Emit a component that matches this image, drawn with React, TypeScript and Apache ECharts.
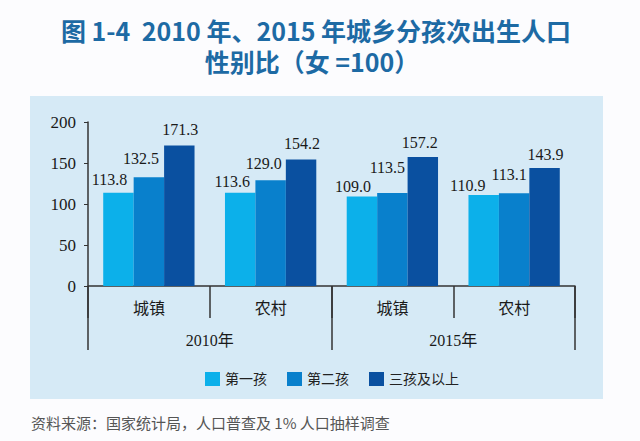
import React, { useEffect, useRef } from "react";
import * as echarts from "echarts";

const categories = ["城镇", "农村", "城镇", "农村"];
const years = ["2010年", "2015年"];
const seriesNames = ["第一孩", "第二孩", "三孩及以上"];
const firstChild = [113.8, 113.6, 109.0, 110.9];
const secondChild = [132.5, 129.0, 113.5, 113.1];
const thirdPlus = [171.3, 154.2, 157.2, 143.9];
const yTicks = [0, 50, 100, 150, 200];

// label nudges (style only)
const labelDx = [
  [-9, -8, -9, -16],
  [-8, -7, -5, -5],
  [1, 1, -3, 1],
];
const labelDy = [
  [-2, 0, 1, 1],
  [-8, -6, -14, -8],
  [-5, -5, -4, -3],
];
const colors = ["#0cb0ea", "#0980cc", "#0a50a0"];

const serif = "'Liberation Serif', 'Noto Sans CJK SC', serif";
const sans = "'Noto Sans CJK SC', sans-serif";

export default function App() {
  const ref = useRef<HTMLDivElement>(null);
  useEffect(() => {
    if (!ref.current) return;
    const chart = echarts.init(ref.current, null, { renderer: "svg" });
    const values = [firstChild, secondChild, thirdPlus];
    const series = values.map((arr, si) => ({
      name: seriesNames[si],
      type: "bar",
      xAxisIndex: 0,
      yAxisIndex: 0,
      barGap: "0%",
      barCategoryGap: "25%",
      itemStyle: { color: colors[si] },
      label: {
        show: true,
        position: "top",
        distance: 3,
        fontFamily: serif,
        fontSize: 16,
        color: "#1a1a1a",
        formatter: (p: any) => Number(p.value).toFixed(1),
      },
      data: arr.map((v, i) => ({
        value: v,
        label: { offset: [labelDx[si][i], labelDy[si][i]] },
      })),
    }));
    const titleStyle = {
      fontFamily: sans,
      fontSize: 25,
      lineHeight: 27,
      fontWeight: "bold",
      color: "#1d6aa4",
    };
    chart.setOption({
      animation: false,
      backgroundColor: "#fcfcfe",
      title: [
        {
          text: "图 1-4  2010 年、2015 年城乡分孩次出生人口",
          left: 316,
          textAlign: "center",
          top: 16,
          padding: 0,
          textStyle: titleStyle,
        },
        {
          text: "性别比（女 =100）",
          left: 312,
          textAlign: "center",
          top: 47,
          padding: 0,
          textStyle: titleStyle,
        },
      ],
      graphic: [
        {
          type: "rect",
          z: -10,
          silent: true,
          shape: { x: 30, y: 96, width: 573, height: 303 },
          style: { fill: "#d6eaf6" },
        },
        {
          type: "text",
          left: 31,
          top: 415,
          style: {
            text: "资料来源：国家统计局，人口普查及 1% 人口抽样调查",
            fontFamily: sans,
            fontSize: 15,
            fill: "#555555",
          },
        },
      ],
      legend: {
        left: 205,
        top: 372,
        itemWidth: 15,
        itemHeight: 14,
        itemGap: 20,
        icon: "rect",
        padding: 0,
        textStyle: { fontFamily: serif, fontSize: 14, color: "#222" },
        data: seriesNames,
      },
      grid: { left: 88, right: 65, top: 122, bottom: 155, containLabel: false },
      xAxis: [
        {
          type: "category",
          data: categories,
          position: "bottom",
          axisLine: { show: true, lineStyle: { color: "#333", width: 1.5 } },
          axisTick: { show: true, length: 32, interval: 0, lineStyle: { color: "#333", width: 1.5 } },
          axisLabel: { interval: 0, margin: 14, fontFamily: serif, fontSize: 16, color: "#1a1a1a" },
        },
        {
          type: "category",
          data: years,
          position: "bottom",
          offset: 0,
          axisLine: { show: false },
          axisTick: { show: true, length: 64, interval: 0, lineStyle: { color: "#333", width: 1.5 } },
          axisLabel: { interval: 0, margin: 46, fontFamily: serif, fontSize: 16, color: "#1a1a1a" },
        },
      ],
      yAxis: {
        type: "value",
        min: yTicks[0],
        max: yTicks[yTicks.length - 1],
        interval: 50,
        splitLine: { show: false },
        axisLine: { show: true, lineStyle: { color: "#333", width: 1.5 } },
        axisTick: { show: true, length: 4, lineStyle: { color: "#333" } },
        axisLabel: { margin: 12, fontFamily: serif, fontSize: 17, color: "#1a1a1a" },
      },
      series,
    });
    return () => chart.dispose();
  }, []);
  return (
    <div
      ref={ref}
      style={{ position: "fixed", left: 0, top: 0, width: 640, height: 441 }}
    />
  );
}
